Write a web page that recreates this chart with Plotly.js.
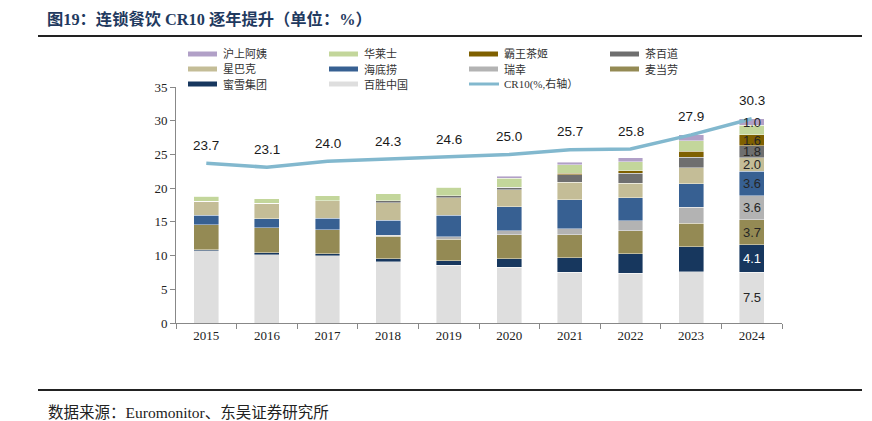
<!DOCTYPE html>
<html>
<head>
<meta charset="utf-8">
<script src="https://cdn.plot.ly/plotly-3.0.1.min.js"></script>
<style>
html,body{margin:0;padding:0;background:#fff;}
#chart{width:872px;height:421px;}
</style>
</head>
<body>
<div id="chart"></div>
<script>
// ---- data ----
const years = ['2015','2016','2017','2018','2019','2020','2021','2022','2023','2024'];
const cr10 = [23.7, 23.1, 24.0, 24.3, 24.6, 25.0, 25.7, 25.8, 27.9, 30.3];
const baisheng  = [10.7, 10.1, 10.0, 9.05, 8.6, 8.3, 7.5, 7.4, 7.6, 7.5];   // 百胜中国
const mixue     = [0.2, 0.35, 0.3, 0.5, 0.65, 1.2, 2.15, 2.85, 3.7, 4.1];   // 蜜雪集团
const mcd       = [3.65, 3.7, 3.55, 3.3, 3.2, 3.6, 3.45, 3.4, 3.5, 3.7];    // 麦当劳
const luckin    = [0, 0, 0, 0.15, 0.35, 0.55, 0.85, 1.55, 2.4, 3.6];        // 瑞幸
const haidilao  = [1.45, 1.3, 1.65, 2.25, 3.15, 3.6, 4.3, 3.4, 3.45, 3.6];  // 海底捞
const starbucks = [2.05, 2.3, 2.6, 2.55, 2.65, 2.5, 2.65, 2.1, 2.35, 2.0];  // 星巴克
const chabaidao = [0, 0, 0, 0.3, 0.3, 0.35, 1.1, 1.5, 1.6, 1.8];            // 茶百道
const bawang    = [0, 0, 0, 0, 0, 0, 0.2, 0.4, 0.9, 1.6];                   // 霸王茶姬
const wallace   = [0.75, 0.7, 0.8, 1.1, 1.25, 1.4, 1.25, 1.35, 1.5, 1.4];   // 华莱士
const hushang   = [0, 0, 0, 0, 0, 0.3, 0.4, 0.55, 0.9, 1.0];                // 沪上阿姨
const yTicks = [0, 5, 10, 15, 20, 25, 30, 35];
const lineName = 'CR10(%,右轴）';
const titleText = '图19：连锁餐饮 CR10 逐年提升（单位：%）';
const sourceText = '数据来源：Euromonitor、东吴证券研究所';

// stacking order bottom -> top
const series = [
  {name:'百胜中国', values: baisheng},
  {name:'蜜雪集团', values: mixue},
  {name:'麦当劳', values: mcd},
  {name:'瑞幸', values: luckin},
  {name:'海底捞', values: haidilao},
  {name:'星巴克', values: starbucks},
  {name:'茶百道', values: chabaidao},
  {name:'霸王茶姬', values: bawang},
  {name:'华莱士', values: wallace},
  {name:'沪上阿姨', values: hushang}
];
// names whose last-year value is labelled
const labelledLast = ['百胜中国','蜜雪集团','麦当劳','瑞幸','海底捞','星巴克','茶百道','霸王茶姬','沪上阿姨'];
const legendOrder = ['沪上阿姨','华莱士','霸王茶姬','茶百道','星巴克','海底捞','瑞幸','麦当劳','蜜雪集团','百胜中国', lineName];

// ---- styles ----
const colors = {
  '百胜中国':'#DEDEDE', '蜜雪集团':'#17375E', '麦当劳':'#948A54', '瑞幸':'#B3B3B3',
  '海底捞':'#376092', '星巴克':'#C4BD97', '茶百道':'#6F6F6F', '霸王茶姬':'#7F6000',
  '华莱士':'#C3D69B', '沪上阿姨':'#B1A0C7'
};
const lineColor = '#82B8CE';
const M = {l:176, r:90, t:87, b:98};
const W = 872, H = 421;
const pw = W - M.l - M.r, ph = H - M.t - M.b;
const px = x => (x - M.l) / pw;
const py = y => (H - M.b - y) / ph;
const latin = 'Liberation Serif, Noto Sans CJK SC, serif';
const sans = 'Liberation Sans, Arial, sans-serif';

const traces = series.map(s => ({
  type:'bar', name:s.name, x:years, y:s.values,
  marker:{color:colors[s.name], line:{color:'rgba(255,255,255,0.7)', width:0.6}},
  showlegend:false, hoverinfo:'name+y'
}));
traces.push({
  type:'scatter', mode:'lines', name:lineName, x:years, y:cr10, yaxis:'y2',
  line:{color:lineColor, width:3.5}, showlegend:false
});

const annotations = [];
// CR10 labels (x given as category index)
years.forEach((yr, i) => {
  annotations.push({x:i, y:cr10[i], yref:'y2', text:cr10[i].toFixed(1), showarrow:false,
    yshift:18, font:{family:sans, size:13.5, color:'#1a1a1a'}});
});
// last-year segment labels
const li = years.length - 1;
let cum = 0;
series.forEach(s => {
  const v = s.values[li];
  if (labelledLast.includes(s.name)) {
    annotations.push({x:li, y:cum + v/2, text:v.toFixed(1), showarrow:false, borderpad:0,
      font:{family:sans, size:13, color: s.name === '蜜雪集团' ? '#ffffff' : '#262626'}});
  }
  cum += v;
});
// title and source
annotations.push({xref:'paper', yref:'paper', x:px(45), y:py(19), xanchor:'left', yanchor:'middle',
  text:'<b>' + titleText + '</b>', showarrow:false,
  font:{family:latin, size:16.3, color:'#1F3A60'}});
annotations.push({xref:'paper', yref:'paper', x:px(46), y:py(412), xanchor:'left', yanchor:'middle',
  text:sourceText, showarrow:false, font:{family:latin, size:15.5, color:'#222'}});

const shapes = [
  {type:'line', xref:'paper', yref:'paper', x0:px(38), x1:px(862), y0:py(36), y1:py(36), line:{color:'#222', width:2}},
  {type:'line', xref:'paper', yref:'paper', x0:px(38), x1:px(862), y0:py(390), y1:py(390), line:{color:'#222', width:2}}
];

// custom legend (4 columns)
const legColX = [188, 329, 469, 610];
const legRowY = [54, 69, 84];
legendOrder.forEach((name, k) => {
  const c = k % 4, r = Math.floor(k / 4);
  const x0 = legColX[c], yc = legRowY[r];
  if (name === lineName) {
    shapes.push({type:'line', xref:'paper', yref:'paper', x0:px(x0), x1:px(x0+30), y0:py(yc), y1:py(yc),
      line:{color:lineColor, width:3}});
  } else {
    shapes.push({type:'rect', xref:'paper', yref:'paper', x0:px(x0), x1:px(x0+29), y0:py(yc-2.5), y1:py(yc+2.5),
      line:{width:0}, fillcolor:colors[name]});
  }
  annotations.push({xref:'paper', yref:'paper', x:px(x0+33), y:py(yc), xanchor:'left', yanchor:'middle',
    text:name, showarrow:false, font:{family:latin, size:11, color:'#333'}});
});

const layout = {
  width:W, height:H, margin:M, paper_bgcolor:'#fff', plot_bgcolor:'#fff',
  barmode:'stack', bargap:0.59, showlegend:false,
  xaxis:{type:'category', range:[-0.5, years.length - 0.5], showline:true, linecolor:'#888', linewidth:1,
    ticks:'outside', tickson:'boundaries',
    ticklen:5, tickcolor:'#888', tickfont:{family:latin, size:13, color:'#222'}, showgrid:false, zeroline:false},
  yaxis:{range:[0,35], tickvals:yTicks, showline:true, linecolor:'#888', linewidth:1, ticks:'outside', ticklen:5,
    tickcolor:'#888', tickfont:{family:latin, size:13, color:'#222'}, showgrid:false, zeroline:false},
  yaxis2:{range:[0,35], overlaying:'y', side:'right', visible:false},
  annotations:annotations, shapes:shapes
};
Plotly.newPlot('chart', traces, layout, {staticPlot:true});
</script>
</body>
</html>
